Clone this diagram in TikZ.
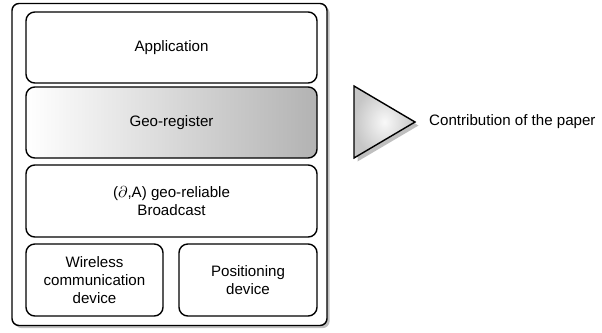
\documentclass[tikz,border=0pt]{standalone}
\usepackage{fontspec}
\setmainfont{Liberation Sans}
\usetikzlibrary{shadows}

\begin{document}
\begin{tikzpicture}
  [x=0.02cm,y=-0.02cm,
   every node/.style={font=\fontsize{8.6}{10.4}\selectfont,align=center},
   layer/.style={draw,thick,rounded corners=5,fill=white,inner sep=0pt},
   stack/.style={draw,thick,rounded corners=4,fill=white,drop shadow={shadow xshift=1.5pt,shadow yshift=-1.5pt,opacity=.5}}]
  \useasboundingbox (0,0) rectangle (602,332);
  \node[stack,minimum width=315*0.02cm,minimum height=322*0.02cm] (outer) at (169.5,164.5) {};
  \node[layer,minimum width=291*0.02cm,minimum height=71*0.02cm] (app) at (171.5,47.5) {Application};
  \node[layer,left color=white,right color=gray!60,minimum width=291*0.02cm,minimum height=71*0.02cm] (georeg) at (171.5,122.5) {Geo-register};
  \node[layer,minimum width=291*0.02cm,minimum height=72*0.02cm] (bcast) at (171.5,201) {($\partial$,A) geo-reliable\\Broadcast};
  \node[layer,minimum width=137*0.02cm,minimum height=72*0.02cm] (wireless) at (94.5,280) {Wireless\\communication\\device};
  \node[layer,minimum width=138*0.02cm,minimum height=72*0.02cm] (posdev) at (248,280) {Positioning\\device};
  \draw[thick,inner color=gray!5,outer color=gray!45,drop shadow={shadow xshift=2pt,shadow yshift=-2pt,opacity=.5}]
    (354,86) -- (415,122) -- (354,158) -- cycle;
  \node[anchor=west] (contrib) at (423,122) {Contribution of the paper};
\end{tikzpicture}
\end{document}
